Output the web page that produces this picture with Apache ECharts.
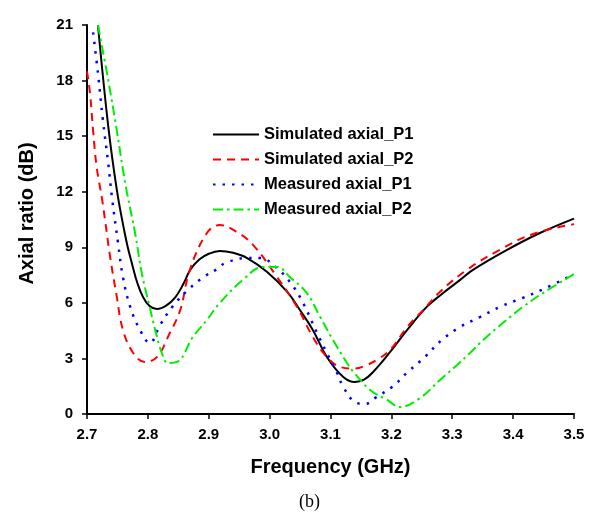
<!DOCTYPE html>
<html><head><meta charset="utf-8">
<script src="https://cdn.jsdelivr.net/npm/echarts@6/dist/echarts.min.js"></script>
<style>html,body{margin:0;padding:0;background:#fff}#c{width:602px;height:515px}</style>
</head><body><div id="c"></div>
<script>
const xTicks = [2.7, 2.8, 2.9, 3.0, 3.1, 3.2, 3.3, 3.4, 3.5];
const yTicks = [0, 3, 6, 9, 12, 15, 18, 21];
const seriesNames = ['Simulated axial_P1', 'Simulated axial_P2', 'Measured axial_P1', 'Measured axial_P2'];

const simP1 = [[2.718,21.0],[2.735,15.5],[2.749,12.1],[2.760,10.1],[2.771,8.48],[2.792,6.32],[2.815,5.67],[2.830,5.85],[2.845,6.3],[2.858,7.0],[2.870,7.8],[2.885,8.35],[2.900,8.65],[2.918,8.80],[2.940,8.70],[2.963,8.42],[2.996,7.67],[3.029,6.59],[3.050,5.6],[3.071,4.54],[3.094,3.08],[3.121,2.0],[3.140,1.73],[3.155,1.85],[3.170,2.27],[3.198,3.35],[3.226,4.54],[3.258,5.78],[3.280,6.40],[3.313,7.24],[3.334,7.78],[3.390,8.86],[3.444,9.77],[3.5,10.55]];
const simP2 = [[2.7,18.5],[2.705,17.3],[2.710,15.3],[2.716,13.3],[2.725,11.55],[2.738,8.48],[2.749,6.32],[2.759,4.54],[2.776,3.29],[2.795,2.81],[2.815,3.08],[2.836,4.37],[2.853,5.6],[2.869,7.78],[2.897,9.77],[2.918,10.2],[2.946,9.83],[2.973,9.12],[3.012,7.4],[3.045,5.78],[3.071,4.16],[3.094,3.08],[3.116,2.54],[3.140,2.45],[3.160,2.65],[3.176,2.92],[3.198,3.46],[3.226,4.7],[3.252,5.6],[3.280,6.6],[3.324,7.78],[3.378,8.86],[3.433,9.72],[3.5,10.25]];
const measP1 = [[2.710,20.6],[2.718,18.4],[2.726,15.9],[2.735,13.5],[2.741,11.7],[2.751,9.23],[2.759,7.4],[2.771,5.78],[2.787,4.54],[2.803,3.83],[2.820,4.8],[2.840,5.78],[2.866,6.7],[2.894,7.45],[2.914,7.83],[2.927,8.15],[2.963,8.42],[2.984,8.42],[3.012,7.88],[3.037,6.97],[3.055,5.99],[3.078,4.37],[3.094,3.29],[3.111,2.21],[3.121,1.46],[3.140,0.65],[3.157,0.54],[3.173,0.86],[3.201,1.46],[3.227,2.27],[3.255,3.08],[3.283,4.0],[3.313,4.7],[3.346,5.24],[3.378,5.78],[3.415,6.26],[3.447,6.7],[3.5,7.55]];
const measP2 = [[2.718,21.0],[2.735,18.0],[2.749,15.3],[2.759,13.2],[2.766,11.9],[2.779,9.77],[2.790,7.6],[2.803,5.78],[2.812,4.54],[2.823,3.29],[2.833,2.75],[2.848,2.81],[2.874,4.16],[2.897,5.08],[2.918,5.99],[2.956,7.24],[2.989,7.94],[3.012,7.94],[3.033,7.4],[3.061,6.53],[3.083,5.24],[3.104,4.0],[3.127,2.75],[3.137,2.3],[3.165,1.30],[3.193,0.76],[3.214,0.38],[3.247,0.86],[3.280,1.84],[3.308,2.65],[3.329,3.29],[3.351,4.0],[3.383,4.91],[3.416,5.78],[3.449,6.53],[3.5,7.55]];

const chart = echarts.init(document.getElementById('c'));
const font = 'Liberation Sans, Arial, sans-serif';
function mk(name, data, color, type, width) {
  return { name, type: 'line', data, smooth: 0.4, symbol: 'none', showSymbol: false,
    lineStyle: { color, type, width }, itemStyle: { color } };
}
chart.setOption({
  backgroundColor: '#fff',
  animation: false,
  grid: { left: 87, right: 28, top: 25, bottom: 101, containLabel: false },
  legend: {
    orient: 'vertical', left: 207, top: 121, itemWidth: 46, itemHeight: 14, itemGap: 8,
    itemTextGap: 5,
    itemStyle: { opacity: 0 },
    textStyle: { fontFamily: font, fontWeight: 'bold', fontSize: 16.5, color: '#000' },
    data: seriesNames
  },
  xAxis: {
    type: 'value', min: xTicks[0], max: xTicks[xTicks.length - 1], interval: 0.1,
    name: 'Frequency (GHz)', nameLocation: 'middle', nameGap: 43,
    nameTextStyle: { fontFamily: font, fontWeight: 'bold', fontSize: 20, color: '#000' },
    axisLine: { lineStyle: { color: '#000', width: 2 } },
    axisTick: { inside: false, length: 5, lineStyle: { color: '#000', width: 1.5 } },
    axisLabel: { fontFamily: font, fontWeight: 'bold', fontSize: 15, color: '#000', margin: 13,
      formatter: v => v.toFixed(1) },
    splitLine: { show: false }
  },
  yAxis: {
    type: 'value', min: yTicks[0], max: yTicks[yTicks.length - 1], interval: 3,
    name: 'Axial ratio (dB)', nameLocation: 'middle', nameGap: 50,
    nameTextStyle: { fontFamily: font, fontWeight: 'bold', fontSize: 20, color: '#000', padding: [0, 0, 0, 12] },
    axisLine: { show: true, lineStyle: { color: '#000', width: 2 } },
    axisTick: { show: true, inside: false, length: 5, lineStyle: { color: '#000', width: 1.5 } },
    axisLabel: { fontFamily: font, fontWeight: 'bold', fontSize: 15, color: '#000', margin: 14 },
    splitLine: { show: false }
  },
  graphic: [{ type: 'text', left: 299, top: 493,
    style: { text: '(b)', fontFamily: 'Liberation Serif, Times New Roman, serif', fontSize: 18, fill: '#000' } }],
  series: [
    mk(seriesNames[0], simP1, '#000000', 'solid', 2),
    mk(seriesNames[1], simP2, '#ff0000', [8, 6], 2),
    mk(seriesNames[2], measP1, '#0000ff', [2.5, 7], 2.5),
    mk(seriesNames[3], measP2, '#00ee00', [10, 4, 2.5, 4], 2)
  ]
});
</script></body></html>
